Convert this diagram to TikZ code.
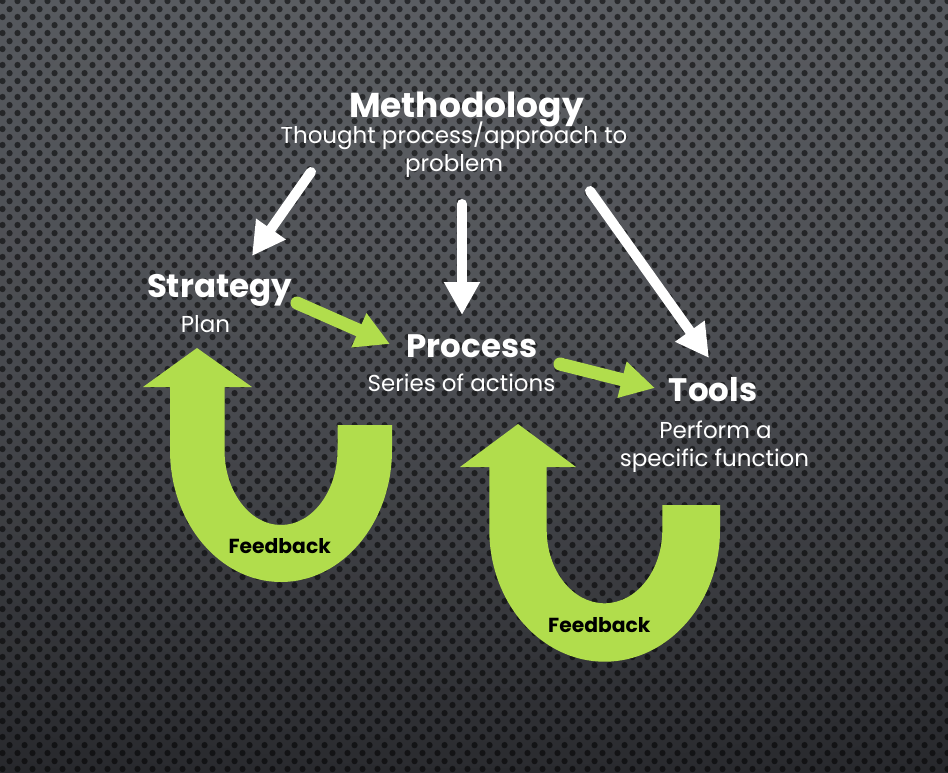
\documentclass[tikz,border=0pt]{standalone}
\usepackage{fontspec}
\setmainfont{Poppins}
\usetikzlibrary{arrows.meta,patterns,fadings}
\definecolor{limegreen}{HTML}{B1DD4C}
\definecolor{bgtop}{HTML}{4D5055}
\definecolor{bgmid}{HTML}{3E4045}
\definecolor{bgbot}{HTML}{27282C}
\tikzfading[name=glowfade, inner color=transparent!0, outer color=transparent!100]
\pgfdeclarepatternformonly{perfdots}{\pgfpoint{0pt}{0pt}}{\pgfpoint{15pt}{16.4pt}}{\pgfpoint{15pt}{16.4pt}}{%
  \pgfpathcircle{\pgfpoint{3.75pt}{4.1pt}}{3.3pt}%
  \pgfpathcircle{\pgfpoint{11.25pt}{12.3pt}}{3.3pt}%
  \pgfusepath{fill}}
\tikzset{
  titletext/.style={text=white, anchor=base, inner sep=0pt, font=\bfseries\fontsize{32.5}{38}\selectfont},
  subtext/.style={text=white, anchor=base, inner sep=0pt, font=\fontsize{23}{28}\selectfont},
  fbtext/.style={text=black, anchor=base, inner sep=0pt, font=\bfseries\fontsize{20.3}{24}\selectfont},
  whitearrow/.style={draw=white, line width=10pt, line cap=round, -{Triangle[width=34pt,length=33pt]}},
  greenarrow/.style={draw=limegreen, line width=13pt, line cap=round, -{Triangle[width=35pt,length=34pt]}},
  uturn/.style={fill=limegreen, draw=none}
}
\begin{document}
\begin{tikzpicture}[x=1pt,y=-1pt]
\useasboundingbox (0,0) rectangle (948,772);
% background
\shade[top color=bgtop, bottom color=bgbot, middle color=bgmid] (0,0) rectangle (948,772);
\begin{scope}
\clip (0,0) rectangle (948,772);
\fill[white, opacity=0.10, path fading=glowfade] (470,160) ellipse [x radius=1100, y radius=700];
\end{scope}
\fill[pattern=perfdots, pattern color=black, fill opacity=0.55] (0,0) rectangle (948,772);

% U-turn feedback arrows
\fill[uturn] (143,387) -- (197,348) -- (252,387) -- (224.5,387) -- (224.5,450)
  arc[start angle=180, end angle=0, x radius=56.5, y radius=75]
  -- (337.5,425) -- (392,425) -- (392,450)
  arc[start angle=0, end angle=180, x radius=111, y radius=132]
  -- (170,387) -- cycle;
\fill[uturn] (460,467) -- (518,424) -- (576,467) -- (546.7,467) -- (546.7,530)
  arc[start angle=180, end angle=0, x radius=57.8, y radius=73.3]
  -- (662.3,505) -- (720,505) -- (720,530)
  arc[start angle=0, end angle=180, x radius=115.35, y radius=131.7]
  -- (489.3,467) -- cycle;

% texts
\node[titletext, font=\bfseries\fontsize{34.5}{40}\selectfont] (meth) at (466.5,117) {Methodology};
\node[subtext] (methsub1) at (454,143) {Thought process/approach to};
\node[subtext] (methsub2) at (454,171.5) {problem};
\node[titletext] (strat) at (219.5,297) {Strategy};
\node[subtext] (plan) at (205.5,332.7) {Plan};
\node[titletext] (proc) at (472,357) {Process};
\node[subtext] (series) at (461.5,391.7) {Series of actions};
\node[titletext] (tools) at (713,401.7) {Tools};
\node[subtext] (perf1) at (715.5,438.3) {Perform a};
\node[subtext] (perf2) at (714.5,466.7) {specific function};
\node[fbtext] (fb1) at (279.7,553.3) {Feedback};
\node[fbtext] (fb2) at (599.3,632.7) {Feedback};

% connector end points
\coordinate (ms1) at (311,172);
\coordinate (me1) at (252,256);
\coordinate (ms2) at (462,204);
\coordinate (me2) at (462,315);
\coordinate (ms3) at (590,191);
\coordinate (me3) at (709,358);
\coordinate (ss) at (297,303);
\coordinate (se) at (390,344);
\coordinate (ps) at (560,364);
\coordinate (pe) at (655,388);

\draw[whitearrow] (ms1) -- (me1);
\draw[whitearrow] (ms2) -- (me2);
\draw[whitearrow] (ms3) -- (me3);
\draw[greenarrow] (ss) -- (se);
\draw[greenarrow] (ps) -- (pe);
\end{tikzpicture}
\end{document}
